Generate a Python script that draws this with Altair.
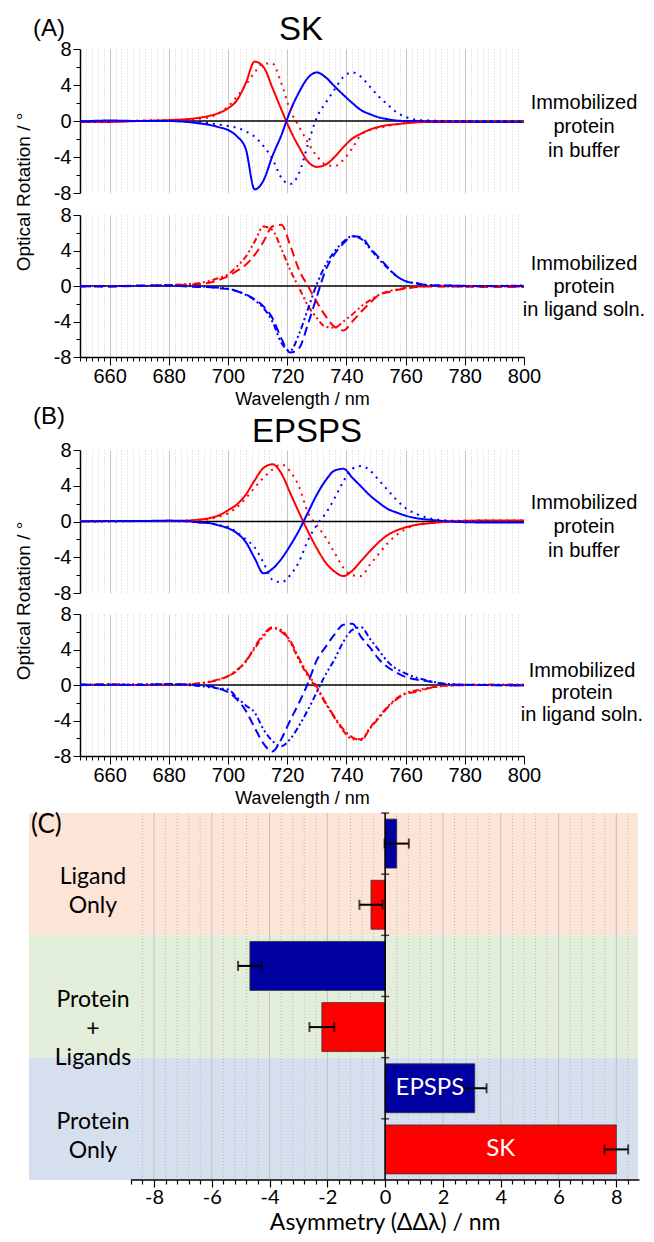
import altair as alt
import pandas as pd

# ---------------- data ----------------
WL = [650, 660, 670, 680, 686, 690, 694, 697, 700, 703, 706, 709, 712, 715, 718, 721, 724,
      727, 730, 733, 736, 739, 742, 745, 748, 751, 754, 757, 760, 764, 768, 775, 785, 800]

# (A) SK - immobilized protein in buffer
SK_BUF_RED = [-0.1, -0.1, 0.0, 0.1, 0.2, 0.35, 0.6, 0.9,
              1.4, 2.3, 4.2, 6.6, 6.0, 3.7, 1.3, -1.0, -2.9, -4.5, -5.1, -4.85, -4.0, -2.9, -1.95, -1.4, -0.95, -0.65, -0.45, -0.35, -0.25,
              -0.15, -0.1, -0.1, -0.1, -0.1]
SK_BUF_BLUE = [-0.05, 0.05, 0.0, 0.0, -0.1, -0.25, -0.45, -0.7,
               -1.0, -1.7, -3.1, -7.6, -6.6, -3.9, -1.6, 1.1, 3.2, 4.8, 5.4, 4.85, 3.85, 2.9, 2.0, 1.2, 0.75, 0.4, 0.2, 0.05, 0.0,
               0.0, -0.05, -0.05, -0.1, -0.1]
SK_BUF_RED_DOT = [-0.1, -0.05, 0.05, 0.1, 0.15, 0.25, 0.45, 0.9,
                  1.6, 2.7, 4.0, 5.4, 6.4, 6.4, 4.2, 1.2, -0.6, -2.4, -3.9, -4.85, -5.0, -4.3, -3.0, -1.5, -1.0, -0.75, -0.55, -0.35, -0.2,
                  -0.1, -0.05, 0.0, -0.05, -0.05]
SK_BUF_BLUE_DOT = [-0.1, -0.05, 0.0, 0.0, -0.05, -0.1, -0.25, -0.4,
                   -0.55, -0.75, -1.15, -1.75, -2.8, -4.2, -6.3, -7.0, -5.8, -2.6, 0.4, 2.0, 3.5, 4.9, 5.4, 4.9, 3.8, 2.7, 1.8, 0.95, 0.45,
                   0.12, 0.05, 0.0, 0.0, -0.05]
# (A) SK - immobilized protein in ligand solution
SK_LIG_RED_DASH = [0.0, -0.05, 0.0, 0.1, 0.15, 0.2, 0.4, 0.7,
                   1.1, 1.7, 2.4, 3.5, 5.0, 6.7, 6.9, 4.6, 1.8, 0.0, -1.8, -3.4, -4.6, -5.0, -4.0, -2.9, -1.9, -1.0, -0.7, -0.45, -0.3,
                   -0.1, -0.05, -0.05, -0.1, -0.1]
SK_LIG_RED_DD = [-0.05, 0.0, 0.0, 0.1, 0.2, 0.3, 0.6, 0.9,
                 1.3, 2.2, 3.3, 5.0, 6.7, 6.3, 4.2, 1.8, -0.2, -2.2, -3.6, -4.6, -4.7, -4.0, -3.2, -2.3, -1.6, -1.0, -0.6, -0.4, -0.2,
                 -0.1, 0.0, -0.05, -0.05, -0.05]
SK_LIG_BLUE_DASH = [0.0, -0.05, 0.05, 0.05, -0.05, -0.1, -0.15, -0.25,
                    -0.35, -0.6, -0.95, -1.5, -2.3, -3.6, -5.9, -7.5, -7.0, -4.3, -1.2, 1.8, 3.6, 4.8, 5.6, 5.5, 4.3, 3.2, 2.1, 1.1, 0.55,
                    0.25, 0.1, 0.05, 0.0, 0.0]
SK_LIG_BLUE_DD = [-0.05, 0.0, 0.0, 0.05, 0.0, -0.05, -0.1, -0.2,
                  -0.3, -0.55, -1.0, -1.6, -2.5, -4.0, -6.4, -7.3, -5.4, -2.6, 0.2, 2.4, 3.9, 5.0, 5.6, 5.3, 4.2, 3.0, 2.0, 1.1, 0.55,
                  0.3, 0.1, 0.05, 0.0, 0.05]
# (B) EPSPS - immobilized protein in buffer
EP_BUF_RED = [0.05, 0.05, 0.05, 0.05, 0.1, 0.2, 0.4, 0.7,
              1.25, 1.9, 3.0, 4.6, 6.0, 6.4, 5.4, 3.2, 1.0, -1.1, -3.0, -4.6, -5.6, -6.1, -5.5, -4.4, -3.3, -2.3, -1.5, -1.0, -0.65,
              -0.35, -0.2, 0.0, 0.1, 0.1]
EP_BUF_BLUE = [0.0, 0.05, 0.05, 0.1, 0.05, -0.1, -0.2, -0.45,
               -0.75, -1.3, -2.3, -4.1, -5.8, -5.3, -4.2, -2.7, -1.0, 1.0, 3.0, 4.6, 5.7, 5.9, 4.9, 3.9, 2.9, 2.1, 1.4, 1.0, 0.65,
               0.35, 0.2, 0.0, -0.1, -0.1]
EP_BUF_RED_DOT = [0.05, 0.05, 0.05, 0.05, 0.1, 0.15, 0.3, 0.55,
                  0.9, 1.6, 2.6, 3.8, 4.9, 5.8, 6.4, 5.6, 3.9, 1.0, -0.4, -1.8, -3.5, -5.2, -6.0, -6.1, -4.8, -3.6, -2.4, -1.5, -0.85,
                  -0.35, -0.15, 0.05, 0.1, 0.1]
EP_BUF_BLUE_DOT = [0.0, 0.0, 0.05, 0.05, 0.0, -0.1, -0.2, -0.4,
                   -0.6, -1.2, -2.0, -2.9, -4.6, -6.5, -6.8, -6.0, -4.5, -2.1, -0.4, 0.9, 2.6, 4.5, 5.9, 6.2, 5.7, 4.6, 3.5, 2.4, 1.5,
                   0.8, 0.35, 0.1, 0.0, -0.05]
# (B) EPSPS - immobilized protein in ligand solution
EP_LIG_RED = [0.0, 0.1, 0.0, 0.05, 0.05, 0.15, 0.35, 0.6,
              1.0, 1.7, 2.6, 4.3, 5.7, 6.5, 6.0, 5.0, 3.0, 1.2, -0.2, -2.0, -3.6, -5.0, -5.9, -6.2, -4.9, -3.7, -2.5, -1.6, -1.0,
              -0.75, -0.35, -0.05, 0.0, 0.0]
EP_LIG_RED2 = [0.05, 0.0, 0.05, 0.0, 0.1, 0.2, 0.4, 0.65,
               1.0, 1.6, 2.7, 4.1, 5.5, 6.4, 6.2, 4.8, 2.8, 1.0, -0.4, -2.1, -3.7, -5.2, -6.1, -6.1, -4.8, -3.6, -2.4, -1.5, -0.9,
               -0.6, -0.3, -0.05, 0.05, 0.05]
EP_LIG_BLUE_DASH = [0.0, 0.05, 0.0, 0.1, 0.05, 0.0, -0.15, -0.4,
                    -0.8, -1.6, -2.9, -4.8, -6.6, -7.5, -6.1, -4.0, -2.0, 0.2, 2.8, 4.3, 5.7, 6.8, 6.9, 5.4, 4.2, 2.9, 2.0, 1.4, 0.9,
                    0.6, 0.4, 0.05, 0.0, -0.05]
EP_LIG_BLUE_DD = [0.05, 0.0, 0.05, 0.1, 0.0, -0.1, -0.25, -0.4,
                  -0.5, -1.4, -2.3, -3.1, -5.0, -6.3, -6.9, -6.1, -4.6, -2.8, -0.8, 1.2, 2.9, 4.9, 6.2, 6.5, 5.2, 3.9, 2.6, 1.8, 1.3,
                  0.8, 0.45, 0.1, 0.0, -0.05]

# (C) asymmetry bars
C_GROUP = ["Ligand Only", "Ligand Only", "Protein + Ligands", "Protein + Ligands", "Protein Only", "Protein Only"]
C_PROTEIN = ["EPSPS", "SK", "EPSPS", "SK", "EPSPS", "SK"]
C_VALUE = [0.40, -0.49, -4.68, -2.19, 3.10, 8.00]
C_ERROR = [0.42, 0.40, 0.41, 0.43, 0.41, 0.41]
C_BAR_LABEL = ["", "", "", "", "EPSPS", "SK"]
BAND_NAMES = ["Ligand Only", "Protein + Ligands", "Protein Only"]
BAND_TEXT = ["Ligand\nOnly", "Protein\n+\nLigands", "Protein\nOnly"]
BAND_COLORS = ["#FCE4D6", "#E3EEDA", "#D6DFEE"]
PROTEIN_COLORS = {"EPSPS": "#0000A0", "SK": "#FF0000"}

# ---------------- styling ----------------
RED, BLUE = "#FF0000", "#0000FF"
STYLE_NAMES = ["solid", "dot", "dash", "dashdot", "dashdotdot"]
STYLE_DASHES = [[1, 0], [2, 5], [9, 5], [8, 3, 2, 3], [6, 3, 2, 3, 2, 3]]
FONT = "Liberation Sans"
CFONT = "Lato"
PLOT_W = 444

WL_TICKS = list(range(650, 801, 2))
Y_TICKS = [-8, -6, -4, -2, 0, 2, 4, 6, 8]
C_TICKS = [round(-8.8 + 0.4 * i, 1) for i in range(45)]
C_GRID = [t for t in C_TICKS if abs(t) < 8.6]
C_GRID_MAJOR = [t for t in C_GRID if abs(t - round(t)) < 1e-6 and round(t) % 2 == 0]
C_GRID_MINOR = [t for t in C_GRID if t not in C_GRID_MAJOR]

X_SC = alt.Scale(domain=[650, 800], nice=False, zero=False)
Y_SC = alt.Scale(domain=[-8, 8], nice=False, zero=False)
MAJOR20 = "datum.value % 20 === 0"

GRID_KW = dict(
    grid=True,
    gridDash={"condition": {"test": MAJOR20, "value": []}, "value": [1, 2]},
    gridColor={"condition": {"test": MAJOR20, "value": "#c4c4c4"}, "value": "#cdcdcd"},
    gridOpacity={"condition": {"test": "datum.value <= 650 || datum.value >= 800", "value": 0}, "value": 1},
    gridWidth=1,
)


def x_axis(bottom):
    if bottom:
        return alt.Axis(values=WL_TICKS, **GRID_KW, domain=True, domainColor="black", domainWidth=1.5,
                        ticks=True, tickColor="black", tickWidth=1,
                        tickSize={"condition": {"test": MAJOR20, "value": 8}, "value": 4},
                        labels=True, labelExpr="datum.value % 20 === 0 ? ('' + datum.value) : ''",
                        labelFont=FONT, labelFontSize=20, labelColor="black", labelPadding=1,
                        labelOverlap=False, labelFlush=False,
                        title="Wavelength / nm", titleFont=FONT, titleFontSize=18, titleFontWeight="normal",
                        titleColor="black", titlePadding=4)
    return alt.Axis(values=WL_TICKS, **GRID_KW, domain=False, ticks=False, labels=False, title=None)


Y_AXIS = alt.Axis(values=Y_TICKS, labelExpr="datum.value % 4 === 0 ? ('' + datum.value) : ''",
                  grid=False, domain=True, domainColor="black", domainWidth=1.5, ticks=True,
                  tickColor="black", tickWidth=1,
                  tickSize={"condition": {"test": "datum.value % 4 === 0", "value": 7}, "value": 4},
                  labelFont=FONT, labelFontSize=20, labelColor="black", labelPadding=2,
                  labelOverlap=False, title=None)


def note(text, x, y, size=20, font=FONT, **kw):
    return alt.Chart(pd.DataFrame({"t": [text]})).mark_text(
        font=font, fontSize=size, color=kw.pop("color", "black"), **kw
    ).encode(text="t:N", x=alt.value(x), y=alt.value(y))


def spectra(series, height, bottom, side_text, side_x, side_y, side_lh, extra):
    rows = []
    for name, col, style, vals in series:
        for w, v in zip(WL, vals):
            rows.append({"wl": w, "val": v, "name": name, "col": col, "style": style})
    df = pd.DataFrame(rows)
    zero = alt.Chart(pd.DataFrame({"z": [0]})).mark_rule(color="black", strokeWidth=1.5).encode(
        y=alt.Y("z:Q", scale=Y_SC, axis=Y_AXIS))
    lines = alt.Chart(df).mark_line(strokeWidth=2, interpolate="monotone").encode(
        x=alt.X("wl:Q", scale=X_SC, axis=x_axis(bottom)),
        y=alt.Y("val:Q", scale=Y_SC, axis=Y_AXIS),
        color=alt.Color("col:N", scale=alt.Scale(domain=["red", "blue"], range=[RED, BLUE]), legend=None),
        strokeDash=alt.StrokeDash("style:N", scale=alt.Scale(domain=STYLE_NAMES, range=STYLE_DASHES), legend=None),
        detail="name:N",
    )
    side = note(side_text, side_x, side_y, size=20, align="center", baseline="alphabetic",
                lineBreak="\n", lineHeight=side_lh)
    return alt.layer(zero, lines, side, *extra).properties(width=PLOT_W, height=height)


def spacer(h):
    return alt.Chart(pd.DataFrame({"s": [""]})).mark_text().encode(text="s:N").properties(width=PLOT_W, height=h)


A_top = spectra(
    [("r1", "red", "solid", SK_BUF_RED), ("b1", "blue", "solid", SK_BUF_BLUE),
     ("r2", "red", "dot", SK_BUF_RED_DOT), ("b2", "blue", "dot", SK_BUF_BLUE_DOT)],
    144, False, "Immobilized\nprotein\nin buffer", 504, 60, 24,
    [note("SK", 221, -35, size=33, align="center", baseline="top"),
     note("(A)", -47, -32, size=24, align="left", baseline="top"),
     note("Optical Rotation / °", -50, 143, size=19, angle=270, align="center", baseline="alphabetic")])

A_bot = spectra(
    [("r1", "red", "dash", SK_LIG_RED_DASH), ("r2", "red", "dashdotdot", SK_LIG_RED_DD),
     ("b1", "blue", "dash", SK_LIG_BLUE_DASH), ("b2", "blue", "dashdotdot", SK_LIG_BLUE_DD)],
    142, True, "Immobilized\nprotein\nin ligand soln.", 504, 55, 23, [])

B_top = spectra(
    [("r1", "red", "solid", EP_BUF_RED), ("b1", "blue", "solid", EP_BUF_BLUE),
     ("r2", "red", "dot", EP_BUF_RED_DOT), ("b2", "blue", "dot", EP_BUF_BLUE_DOT)],
    143, False, "Immobilized\nprotein\nin buffer", 504, 59, 24,
    [note("EPSPS", 227, -34, size=33, align="center", baseline="top"),
     note("(B)", -47, -45, size=24, align="left", baseline="top"),
     note("Optical Rotation / °", -50, 151, size=19, angle=270, align="center", baseline="alphabetic")])

B_bot = spectra(
    [("r1", "red", "dashdot", EP_LIG_RED), ("r2", "red", "dashdotdot", EP_LIG_RED2),
     ("b1", "blue", "dash", EP_LIG_BLUE_DASH), ("b2", "blue", "dashdotdot", EP_LIG_BLUE_DD)],
    142, True, "Immobilized\nprotein\nin ligand soln.", 502, 63, 22, [])

# ---------------- panel C ----------------
C_W, C_H = 558, 367
C_X = alt.Scale(domain=[-10.56, 8.75], nice=False, zero=False)
C_Y = alt.Scale(domain=[0, 6], reverse=True, nice=False, zero=False)
EVEN = "abs(datum.value - round(datum.value)) < 0.001 && round(datum.value) % 2 === 0"
C_XAXIS = alt.Axis(
    values=C_TICKS, domain=False, grid=False, ticks=True, tickColor="black", tickWidth=1.2,
    tickSize={"condition": {"test": EVEN, "value": 7}, "value": 4},
    labelExpr="(" + EVEN + ") ? ('' + round(datum.value)) : ''",
    labelFont=CFONT, labelFontSize=20, labelColor="black", labelPadding=0,
    labelOverlap=False, labelFlush=False, title=None)

bars = pd.DataFrame({"group": C_GROUP, "protein": C_PROTEIN, "value": C_VALUE, "err": C_ERROR, "lab": C_BAR_LABEL})
bars["row"] = range(len(bars))
bars["y0"] = bars["row"] + 0.1
bars["y1"] = bars["row"] + 0.9
bars["ym"] = bars["row"] + 0.5
bars["lo"] = bars["value"] - bars["err"]
bars["hi"] = bars["value"] + bars["err"]
bars["xm"] = bars["value"] / 2
bars["zero"] = 0.0
bars["fill"] = [PROTEIN_COLORS[p] for p in C_PROTEIN]

bands = pd.DataFrame({"name": BAND_NAMES, "text": BAND_TEXT, "fill": BAND_COLORS})
bands["y0"] = [2 * i for i in range(3)]
bands["y1"] = [2 * i + 2 for i in range(3)]
bands["yc"] = [2 * i + 1 for i in range(3)]


def cy(f):
    return alt.Y(f, scale=C_Y, axis=None)


def cx(f):
    return alt.X(f, scale=C_X, axis=C_XAXIS)


bg = alt.Chart(bands).mark_rect().encode(
    x=alt.value(-51), x2=alt.value(C_W), y=cy("y0:Q"), y2="y1:Q",
    color=alt.Color("fill:N", scale=None))
grid_minor = alt.Chart(pd.DataFrame({"g": C_GRID_MINOR})).mark_rule(
    color="#b9b9b9", strokeWidth=1, strokeDash=[1, 2]).encode(x=cx("g:Q"), y=alt.value(0), y2=alt.value(C_H))
grid_major = alt.Chart(pd.DataFrame({"g": C_GRID_MAJOR})).mark_rule(
    color="#c2c2c2", strokeWidth=1).encode(x=cx("g:Q"), y=alt.value(0), y2=alt.value(C_H))
bar_marks = alt.Chart(bars).mark_rect(stroke="#333333", strokeWidth=0.8).encode(
    x=cx("value:Q"), x2="zero:Q", y=cy("y0:Q"), y2="y1:Q",
    color=alt.Color("fill:N", scale=None))
err_line = alt.Chart(bars).mark_rule(color="black", strokeWidth=2).encode(x=cx("lo:Q"), x2="hi:Q", y=cy("ym:Q"))
cap_lo = alt.Chart(bars).mark_tick(orient="vertical", size=10, thickness=2, color="black").encode(x=cx("lo:Q"), y=cy("ym:Q"))
cap_hi = alt.Chart(bars).mark_tick(orient="vertical", size=10, thickness=2, color="black").encode(x=cx("hi:Q"), y=cy("ym:Q"))
zero_v = alt.Chart(pd.DataFrame({"z": [0]})).mark_rule(color="black", strokeWidth=1.5).encode(
    x=cx("z:Q"), y=alt.value(0), y2=alt.value(C_H))
row_ticks = alt.Chart(pd.DataFrame({"b": list(range(6)), "z": [0] * 6})).mark_tick(
    orient="horizontal", size=8, thickness=1.5, color="black").encode(x=cx("z:Q"), y=cy("b:Q"))
axis_line = alt.Chart(pd.DataFrame({"a": [min(C_TICKS)], "b": [max(C_TICKS)]})).mark_rule(
    color="black", strokeWidth=1.5).encode(x=cx("a:Q"), x2="b:Q", y=alt.value(C_H))
bar_text = alt.Chart(bars[bars["lab"] != ""]).mark_text(
    font=CFONT, fontSize=24, color="white", baseline="middle", align="center").encode(
    x=cx("xm:Q"), y=cy("ym:Q"), text="lab:N")
band_text = alt.Chart(bands).mark_text(
    font=CFONT, fontSize=23, color="black", baseline="middle", align="center", lineBreak="\n",
    lineHeight=29, dy=3).encode(x=alt.value(13), y=cy("yc:Q"), text="text:N")
x_title = alt.Chart(pd.DataFrame({"z": [0], "t": ["Asymmetry (ΔΔλ) / nm"]})).mark_text(
    font=CFONT, fontSize=23, color="black", baseline="alphabetic", align="center").encode(
    x=cx("z:Q"), y=alt.value(C_H + 50), text="t:N")
c_label = note("(C)", -49, 20, size=26, font=CFONT, align="left", baseline="alphabetic")

C_panel = alt.layer(bg, grid_minor, grid_major, bar_marks, err_line, cap_lo, cap_hi, zero_v, row_ticks,
                    axis_line, bar_text, band_text, x_title, c_label).properties(width=C_W, height=C_H)

chart = alt.vconcat(
    A_top, spacer(22), A_bot, spacer(93), B_top, spacer(21), B_bot, spacer(57), C_panel,
    spacing=0, bounds="flush",
).properties(
    padding={"left": 6, "top": 5, "right": 0, "bottom": 0}
).configure_view(stroke="transparent")

chart.save("out.html", embed_options={"renderer": "svg", "actions": False})
